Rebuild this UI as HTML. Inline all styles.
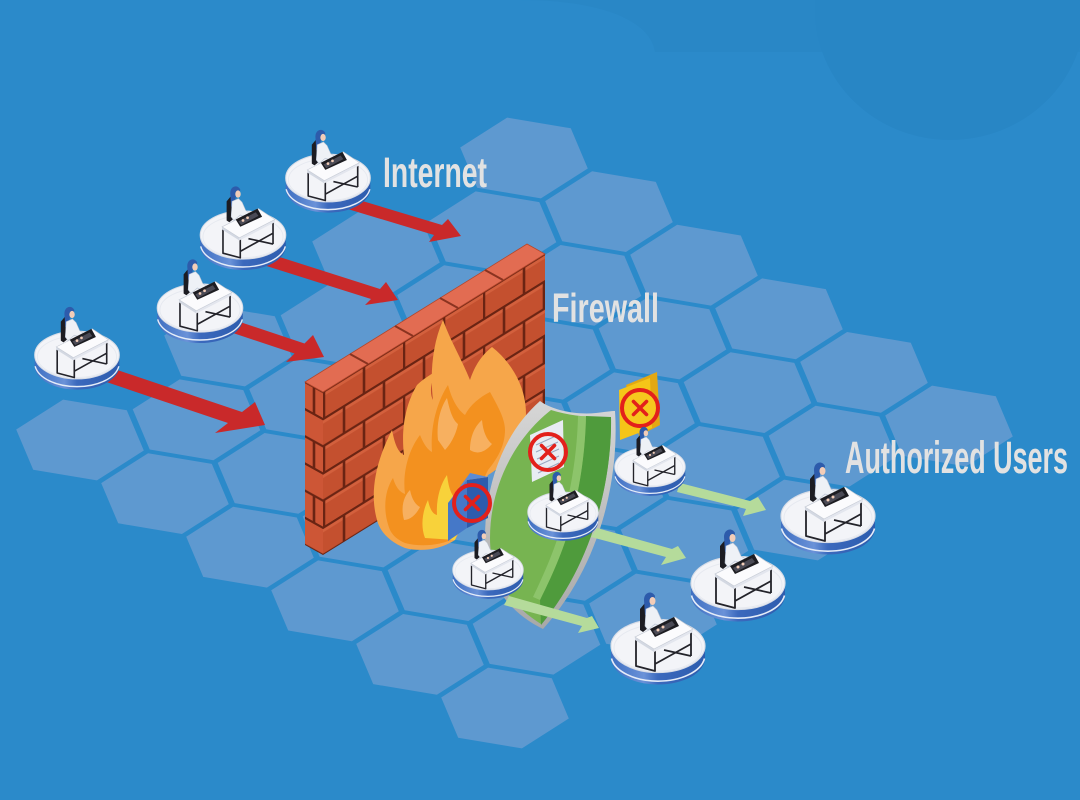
<!DOCTYPE html>
<html><head><meta charset="utf-8">
<style>
html,body{margin:0;padding:0;background:#2b8aca;width:1080px;height:800px;overflow:hidden}
svg{display:block}
</style></head>
<body>
<svg width="1080" height="800" viewBox="0 0 1080 800" xmlns="http://www.w3.org/2000/svg" xmlns:xlink="http://www.w3.org/1999/xlink">
<defs>
  <polygon id="hx" points="63.8,10.5 46.8,-29.7 -16.9,-40.4 -63.8,-10.5 -46.8,29.7 16.9,40.4" fill="#5e99d0"/>
  <linearGradient id="side" x1="0" x2="1" y1="0" y2="0">
    <stop offset="0" stop-color="#3f6fc2"/>
    <stop offset="0.35" stop-color="#6a92d8"/>
    <stop offset="0.5" stop-color="#3b69bd"/>
    <stop offset="1" stop-color="#2d5cae"/>
  </linearGradient>
  <linearGradient id="rim" x1="0" x2="0" y1="0" y2="1">
    <stop offset="0" stop-color="#d6d6d6"/>
    <stop offset="1" stop-color="#a8a8a8"/>
  </linearGradient>
  <pattern id="brk" patternUnits="userSpaceOnUse" x="323" y="0" width="80" height="54.34" patternTransform="matrix(1,-0.6216,0,1,0,592.8)">
    <rect width="80" height="54.34" fill="#c4502f"/>
    <rect y="1.5" width="80" height="3" fill="#d3603d"/>
    <rect y="28.7" width="80" height="3" fill="#d3603d"/>
    <path d="M0,0H80M0,27.17H80M0,54.34H80M1,0V27.17M41,0V27.17M21,27.17V54.34M61,27.17V54.34" stroke="#6a2413" stroke-width="2.6" fill="none"/>
  </pattern>
  <pattern id="brk2" patternUnits="userSpaceOnUse" x="305" y="0" width="18" height="54.34" patternTransform="matrix(1,0.556,0,1,0,212.4)">
    <rect width="18" height="54.34" fill="#cd5636"/>
    <path d="M0,0H18M0,27.17H18M0,54.34H18M9,0V27.17" stroke="#6a2413" stroke-width="2.6" fill="none"/>
  </pattern>
  <g id="dk">
    <path d="M-47,0 V12 A47,26.5 0 0 0 47,12 V0 Z" fill="url(#side)"/>
    <path d="M-46.5,12.5 A47,26.5 0 0 0 46.5,12.5" fill="none" stroke="#e4ecf8" stroke-width="1.6"/>
    <ellipse rx="47" ry="26.5" fill="#f3f4f8" stroke="#d9dee8" stroke-width="1.2"/>
    <ellipse cx="0" cy="2" rx="44" ry="23" fill="none" stroke="#e6e9f0" stroke-width="1"/>
    <!-- person -->
    <polygon points="-18,-37 -13,-43 -10,-41 -10,-18 -15,-14 -18,-16" fill="#1c1c22"/>
    <path d="M-14,-46 C-14,-54 -6,-56 -3,-50 L-4,-44 L-8,-42 L-9,-30 L-13,-31 Z" fill="#2d5bab"/>
    <ellipse cx="-5.5" cy="-45" rx="3" ry="4" fill="#f2cdb8"/>
    <polygon points="-12,-37 -5,-40 -1,-36 3,-27 9,-23 6,-19 -3,-22 -10,-16 -13,-20" fill="#eef1f6" stroke="#b9c3d3" stroke-width="0.6"/>
    <!-- legs -->
    <path d="M-22,-6 V20 L-3,25 V4 M33,-14 V10 M-3,18 L33,-2 M6,4 L33,10" stroke="#23232a" stroke-width="1.8" fill="none" stroke-linejoin="round"/>
    <!-- desk top -->
    <polygon points="-23,-9 -4,3 -4,6 -23,-6" fill="#d3d8e2"/>
    <polygon points="-4,3 35,-17 35,-14 -4,6" fill="#e3e6ee"/>
    <polygon points="-23,-9 17,-29 35,-17 -4,3" fill="#fbfbfd" stroke="#c7ccd6" stroke-width="0.7"/>
    <!-- laptop -->
    <polygon points="-8,-17 16,-29 21,-20 -3,-9" fill="#1d1d22"/>
    <polygon points="-5,-15 14,-25 17,-21 -2,-11" fill="#4a4a55"/>
    <circle cx="0" cy="-16" r="1.5" fill="#f2cdb8"/>
    <circle cx="5" cy="-19" r="1.5" fill="#f2cdb8"/>
  </g>
  <g id="rx">
    <circle r="18" fill="none" stroke="#e3201b" stroke-width="4"/>
    <path d="M-6.5,-6.5 L6.5,6.5 M6.5,-6.5 L-6.5,6.5" stroke="#e3201b" stroke-width="3.6" stroke-linecap="round"/>
  </g>
</defs>

<!-- background -->
<rect width="1080" height="800" fill="#2b8aca"/>
<path d="M520,0 C600,0 650,20 655,52 L1080,52 L1080,0 Z" fill="#2987c6"/>
<ellipse cx="950" cy="10" rx="135" ry="130" fill="#2886c5"/>

<!-- hex floor -->
<g>
<use xlink:href="#hx" x="80" y="440"/><use xlink:href="#hx" x="165" y="493.6"/><use xlink:href="#hx" x="250" y="547.2"/><use xlink:href="#hx" x="335" y="600.8"/><use xlink:href="#hx" x="420" y="654.4"/><use xlink:href="#hx" x="505" y="708"/>
<use xlink:href="#hx" x="196.5" y="419.8"/><use xlink:href="#hx" x="281.5" y="473.4"/><use xlink:href="#hx" x="366.5" y="527"/><use xlink:href="#hx" x="451.5" y="580.6"/><use xlink:href="#hx" x="536.5" y="634.2"/>
<use xlink:href="#hx" x="228" y="346"/><use xlink:href="#hx" x="313" y="399.6"/><use xlink:href="#hx" x="398" y="453.2"/><use xlink:href="#hx" x="483" y="506.8"/><use xlink:href="#hx" x="568" y="560.4"/><use xlink:href="#hx" x="653" y="614"/>
<use xlink:href="#hx" x="344.5" y="325.8"/><use xlink:href="#hx" x="429.5" y="379.4"/><use xlink:href="#hx" x="514.5" y="433"/><use xlink:href="#hx" x="599.5" y="486.6"/><use xlink:href="#hx" x="684.5" y="540.2"/>
<use xlink:href="#hx" x="376" y="252"/><use xlink:href="#hx" x="461" y="305.6"/><use xlink:href="#hx" x="546" y="359.2"/><use xlink:href="#hx" x="631" y="412.8"/><use xlink:href="#hx" x="716" y="466.4"/><use xlink:href="#hx" x="801" y="520"/>
<use xlink:href="#hx" x="492.5" y="231.8"/><use xlink:href="#hx" x="577.5" y="285.4"/><use xlink:href="#hx" x="662.5" y="339"/><use xlink:href="#hx" x="747.5" y="392.6"/><use xlink:href="#hx" x="832.5" y="446.2"/>
<use xlink:href="#hx" x="524" y="158"/><use xlink:href="#hx" x="609" y="211.6"/><use xlink:href="#hx" x="694" y="265.2"/><use xlink:href="#hx" x="779" y="318.8"/><use xlink:href="#hx" x="864" y="372.4"/><use xlink:href="#hx" x="949" y="426"/>
</g>

<!-- red arrows -->
<g fill="#c9292a">
<polygon points="349,197 442,225 448,219 461,236 429,242 434,235 341,207"/>
<polygon points="267,253 380,289 386,282 398,300 365,305 371,299 257,263"/>
<polygon points="237,321 304.5,343.5 313,335 324,357 286,362 294.5,353.5 227,331"/>
<polygon points="107,366.5 242,412 255,402 265,425 215,433 228,423 93,377.5"/>
</g>

<!-- internet desks -->
<use xlink:href="#dk" transform="translate(328,178) scale(0.9)"/>
<use xlink:href="#dk" transform="translate(243,235) scale(0.91)"/>
<use xlink:href="#dk" transform="translate(200,308) scale(0.91)"/>
<use xlink:href="#dk" transform="translate(77,355) scale(0.9)"/>

<!-- wall -->
<polygon points="305,382 323,392 323,555 305,545" fill="url(#brk2)"/>
<polygon points="323,392 545,254 545,417 323,555" fill="url(#brk)"/>
<polygon points="305,382 527,244 545,254 323,392" fill="#e26c52" stroke="#b4472c" stroke-width="0.8"/>
<path d="M350,354 L368,364 M395,326 L413,336 M440,298 L458,308 M485,270 L503,280" stroke="#8a3320" stroke-width="2" fill="none"/>

<!-- fire -->
<path d="M377,520 C370,495 374,465 392,430 C395,445 398,452 404,455 C401,430 405,405 417,385 C422,380 428,376 435,372 C430,385 430,395 433,400 C430,375 432,345 443,320 C450,340 462,360 470,380 C475,365 482,355 492,347 C515,365 530,395 525,425 C520,450 505,465 488,475 L455,540 C440,550 420,552 405,548 C390,542 380,532 377,520 Z" fill="#f6a64a"/>
<path d="M390,530 C382,510 385,490 393,478 C396,488 400,492 405,494 C402,470 410,448 420,435 C424,445 428,450 432,452 C430,425 438,400 448,385 C452,400 458,410 465,415 C470,405 480,397 490,392 C497,405 505,418 505,430 C505,445 498,458 488,470 L455,538 C440,546 420,547 405,543 C398,540 393,536 390,530 Z" fill="#f3911f"/>
<path d="M438,440 C436,420 442,405 447,398 C450,412 453,420 458,424 C456,435 450,445 445,450 Z" fill="#f7b060"/>
<path d="M404,520 C400,505 405,495 410,490 C412,500 416,505 420,507 C416,515 410,520 404,520 Z" fill="#f7b060"/>
<path d="M470,450 C470,435 476,425 482,420 C483,432 487,440 492,444 C485,452 478,455 470,450 Z" fill="#f7b060"/>
<path d="M425,538 C420,525 423,510 428,500 C430,510 433,514 437,515 C436,500 440,485 447,475 C449,490 452,497 458,500 L462,520 L455,540 Z" fill="#f8d23a"/>

<!-- shield -->
<path d="M540,401 C552,410 575,415 596,413 C605,412 611,411 615,411 C619,470 605,560 543,629 C508,612 484,580 485,535 C486,480 505,432 540,401 Z" fill="url(#rim)"/>
<path d="M551,410 C570,416 592,418 611,417 C612,472 597,558 541,624 C512,606 490,578 490,538 C490,488 513,440 551,410 Z" fill="#77b451"/>
<path d="M586,416 L611,417 C612,472 597,558 541,625 L540,600 C555,570 565,545 570,525 C578,495 585,460 586,416 Z" fill="#4f9b3c"/>
<path d="M578,416 L586,416 C585,460 578,495 570,525 C565,545 555,570 540,600 L533,597 C547,568 557,543 562,523 C570,493 577,458 578,416 Z" fill="#92c872" opacity="0.8"/>

<!-- cube with X -->
<polygon points="448,503 467,480 467,528 448,541" fill="#4578c8"/>
<polygon points="467,480 488,477 488,518 467,528" fill="#2d5cad"/>
<polygon points="448,503 470,473 488,477 467,480" fill="#5b8bd6"/>
<use xlink:href="#rx" transform="translate(472,503)"/>

<!-- document with X -->
<polygon points="530,435 563,420 564,467 532,482" fill="#e8ecf3"/>
<path d="M536,445 L558,435 M536,452 L558,442 M537,459 L559,449 M537,466 L559,456 M538,473 L559,463" stroke="#9aa7c0" stroke-width="1" fill="none"/>
<use xlink:href="#rx" transform="translate(548,452)"/>

<!-- folder with X -->
<polygon points="626,385 657,372 660,425 639,436" fill="#e3a812"/>
<polygon points="619,390 650,378 652,428 620,440" fill="#f5c518"/>
<circle cx="640" cy="408" r="17" fill="#f6c81e"/>
<use xlink:href="#rx" transform="translate(640,408)"/>

<!-- green arrows -->
<g fill="#b5db9b">
<polygon points="680,483 750,501 758,497 766,510 743,516 746,509 677,492"/>
<polygon points="597,528 672,549 678,546 686,558 661,565 666,557 591,537"/>
<polygon points="509,596 587,618 592,616 599,628 578,633 582,626 504,605"/>
</g>

<!-- small desks -->
<use xlink:href="#dk" transform="translate(650,467) scale(0.75)"/>
<use xlink:href="#dk" transform="translate(563,512) scale(0.75)"/>
<use xlink:href="#dk" transform="translate(488,570) scale(0.75)"/>

<!-- authorized desks -->
<use xlink:href="#dk" transform="translate(828,516)"/>
<use xlink:href="#dk" transform="translate(738,583)"/>
<use xlink:href="#dk" transform="translate(658,646)"/>

<!-- labels -->
<g font-family="'Liberation Sans Narrow','Liberation Sans',sans-serif" font-weight="bold" fill="#e2e2e2">
<text x="383" y="187" font-size="43" textLength="104" lengthAdjust="spacingAndGlyphs">Internet</text>
<text x="552" y="322" font-size="41" textLength="107" lengthAdjust="spacingAndGlyphs">Firewall</text>
<text x="845" y="473" font-size="45" textLength="223" lengthAdjust="spacingAndGlyphs">Authorized Users</text>
</g>
</svg>
</body></html>
